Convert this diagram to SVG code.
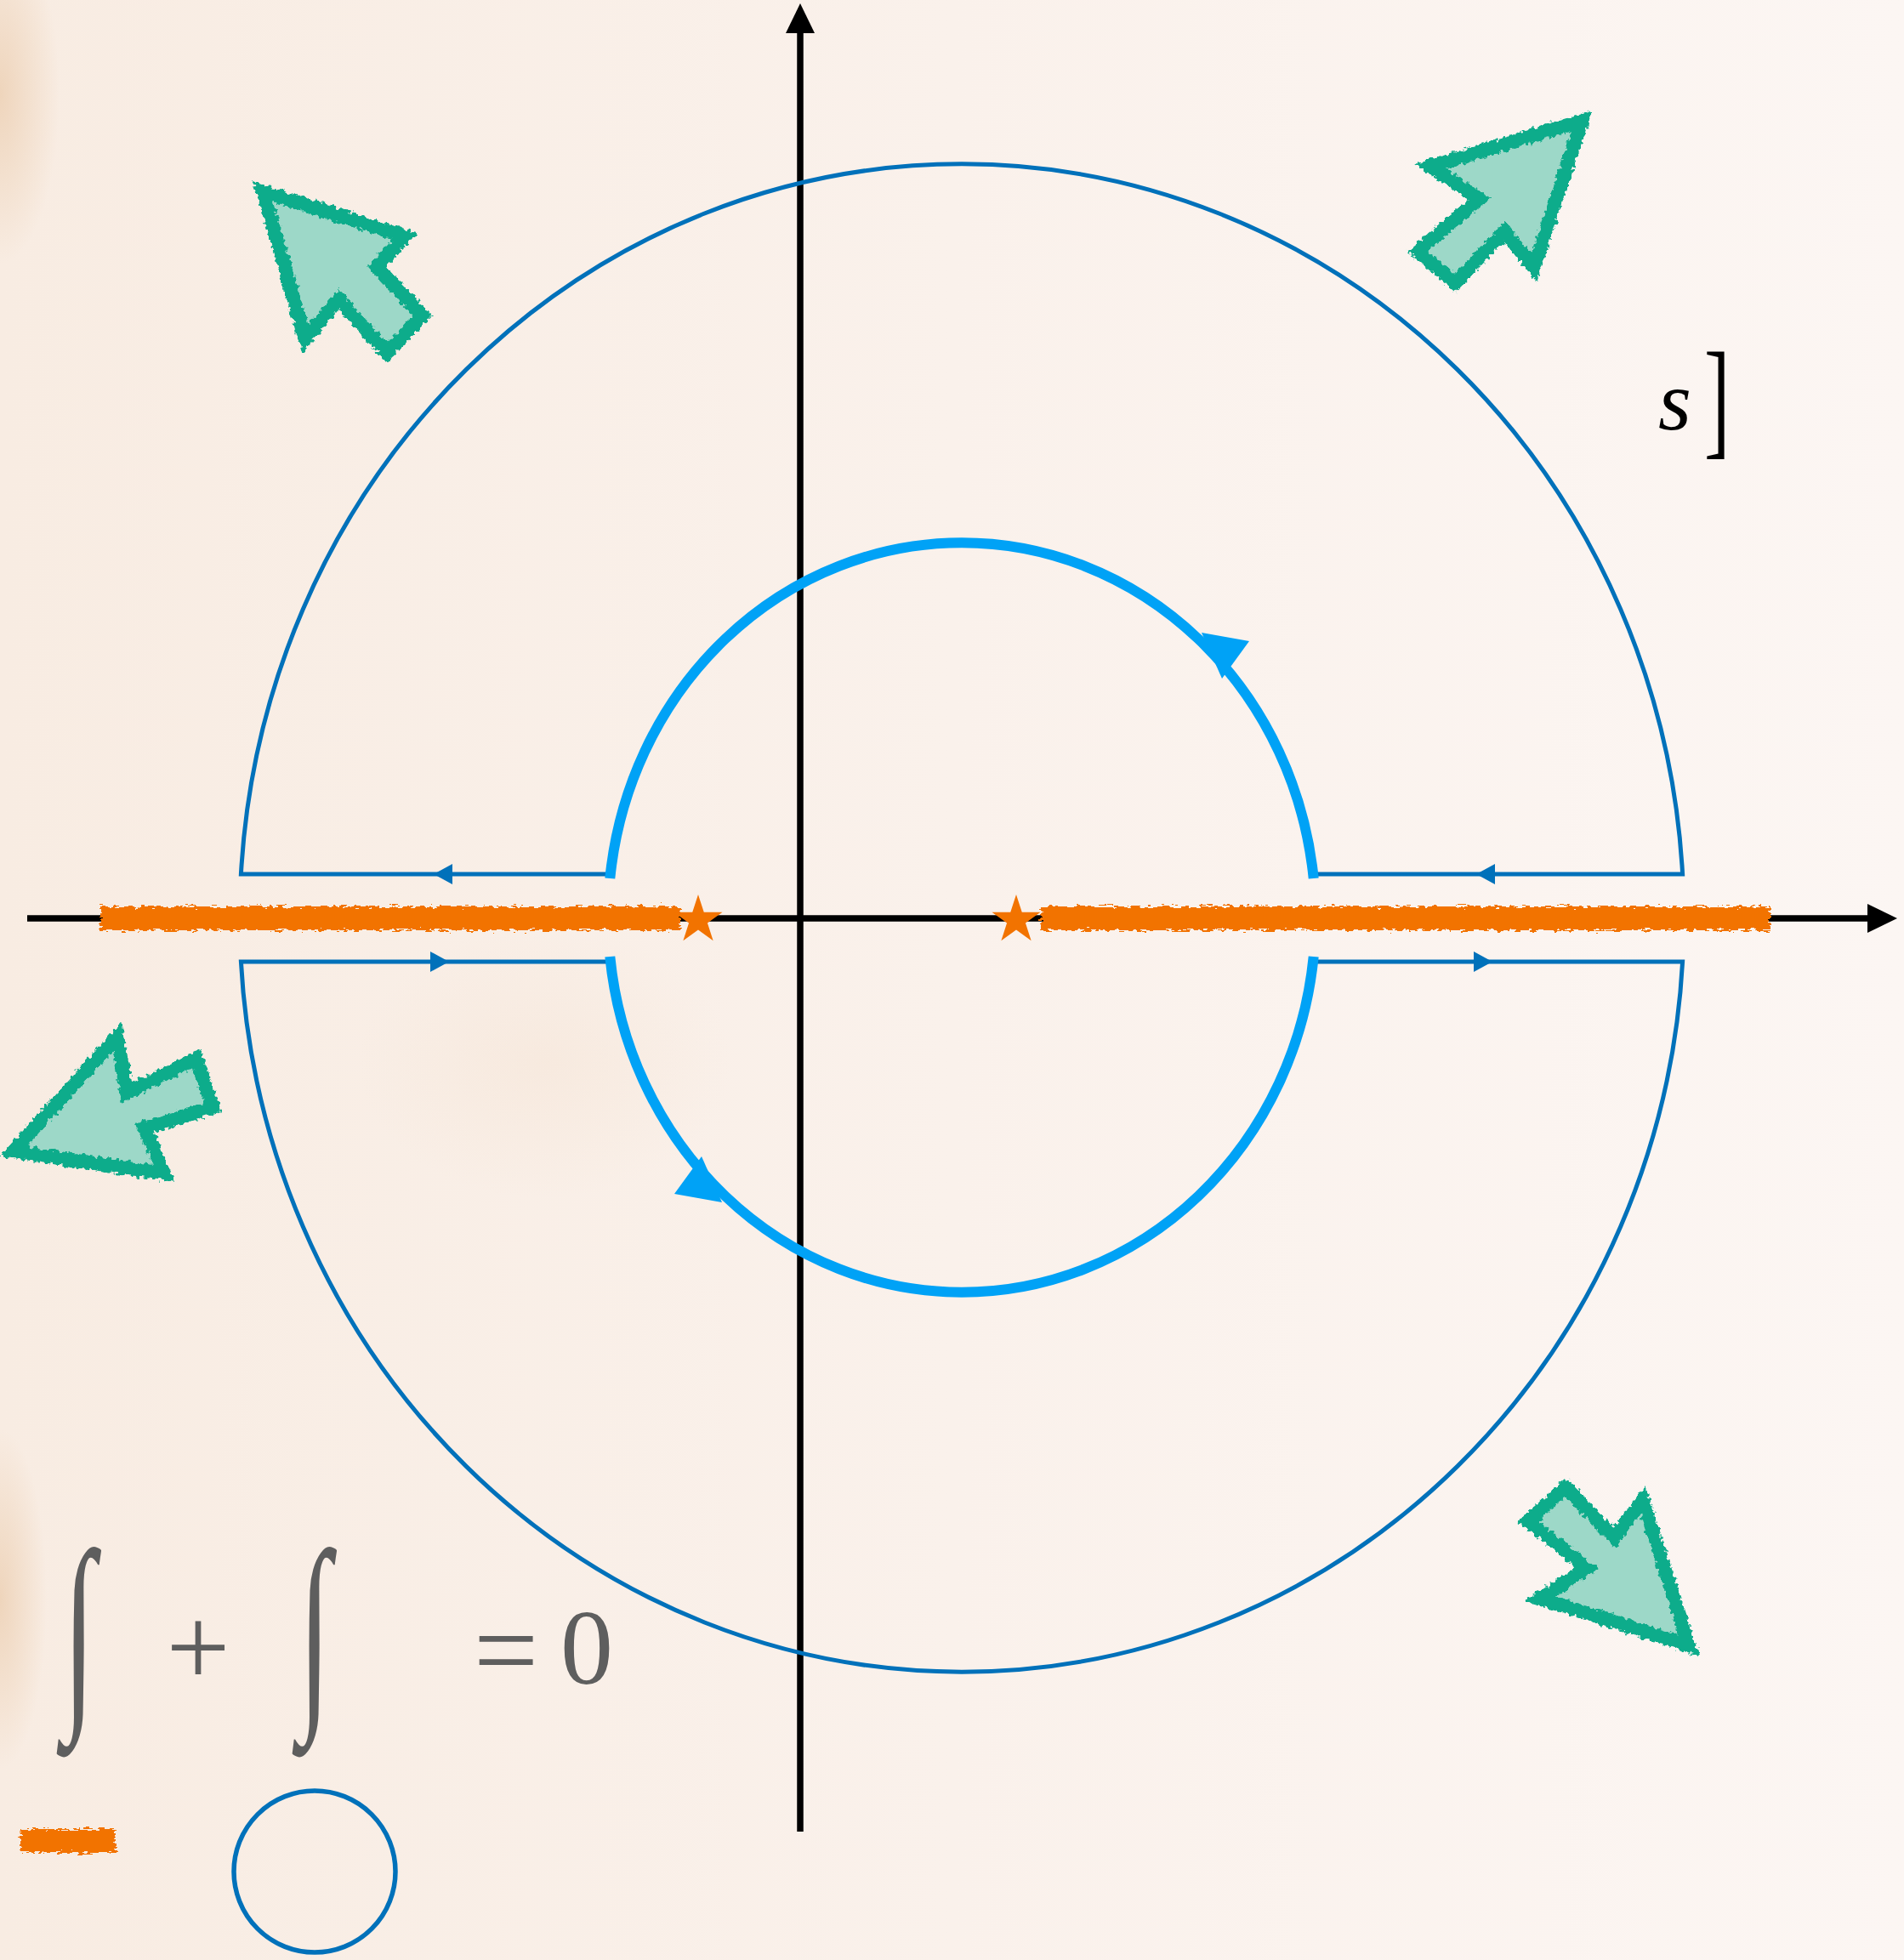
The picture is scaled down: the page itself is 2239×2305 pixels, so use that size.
<svg xmlns="http://www.w3.org/2000/svg" xmlns:xlink="http://www.w3.org/1999/xlink" width="2239" height="2305" viewBox="0 0 2239 2305">
<style>
.axis{stroke:#000;stroke-width:7.5;fill:none}
.thin{stroke:#0071ba;stroke-width:5;fill:none}
.thick{stroke:#00a2f6;stroke-width:12;fill:none}
.tipthin{fill:#0071ba}
.tipthick{fill:#00a2f6}
.cut{fill:#f27300}
.green{fill:#9dd8c8;stroke:#0fac8b;stroke-width:16;stroke-linejoin:miter}
.eq{font-family:'Liberation Serif','Times New Roman',serif;fill:#5e5e5e}
.lbl{font-family:'Liberation Serif','Times New Roman',serif;fill:#000}
</style>
<defs>
<linearGradient id="bg" x1="0" y1="0" x2="1" y2="0">
<stop offset="0" stop-color="#f8ece2"/>
<stop offset="0.5" stop-color="#faf1eb"/>
<stop offset="1" stop-color="#fcf6f3"/>
</linearGradient>
<radialGradient id="tan" cx="0.5" cy="0.5" r="0.5">
<stop offset="0" stop-color="#eccfb2" stop-opacity="0.8"/>
<stop offset="1" stop-color="#eccfb2" stop-opacity="0"/>
</radialGradient>
<filter id="rough" x="-5%" y="-80%" width="110%" height="260%">
<feTurbulence type="fractalNoise" baseFrequency="0.12 0.35" numOctaves="2" seed="4" result="n"/>
<feDisplacementMap in="SourceGraphic" in2="n" scale="12" xChannelSelector="R" yChannelSelector="G"/>
</filter>
<filter id="sketch" x="-10%" y="-10%" width="120%" height="120%">
<feTurbulence type="fractalNoise" baseFrequency="0.2" numOctaves="2" seed="7" result="n"/>
<feDisplacementMap in="SourceGraphic" in2="n" scale="9" xChannelSelector="R" yChannelSelector="G"/>
</filter>
<polygon id="star" points="0,-30 6.76,-9.3 28.53,-9.27 10.94,3.55 17.63,24.27 0,11.5 -17.63,24.27 -10.94,3.55 -28.53,-9.27 -6.76,-9.3" fill="#f27300"/>
</defs>

<g id="background">
<rect x="0" y="0" width="2239" height="2305" fill="url(#bg)"/>
<ellipse cx="0" cy="110" rx="70" ry="200" fill="url(#tan)"/>
<ellipse cx="0" cy="1880" rx="55" ry="200" fill="url(#tan)"/>
<ellipse cx="640" cy="1250" rx="220" ry="160" fill="url(#tan)" opacity="0.2"/>
</g>

<g id="axes">
<line class="axis" x1="32" y1="1080" x2="2200" y2="1080"/>
<polygon points="2231,1080 2196,1063 2196,1097" fill="#000"/>
<line class="axis" x1="941" y1="2154" x2="941" y2="36"/>
<polygon points="941,4 924,39 958,39" fill="#000"/>
</g>

<g id="branch-cuts">
<rect class="cut" x="118" y="1066" width="682" height="28" filter="url(#rough)"/>
<rect class="cut" x="1224" y="1066" width="858" height="28" filter="url(#rough)"/>
<use xlink:href="#star" x="821" y="1082"/>
<use xlink:href="#star" x="1195" y="1082"/>
</g>

<g id="connectors">
<path class="thin" d="M 717.8 1028 L 283.4 1028 A 849 886 0 0 1 1978.6 1028 L 1544.2 1028"/>
<path class="thin" d="M 717.8 1131 L 283.4 1131 A 849 886 0 0 0 1978.6 1131 L 1544.2 1131"/>
<polygon class="tipthin" points="510,1028 532,1016 532,1040"/>
<polygon class="tipthin" points="1736,1028 1758,1016 1758,1040"/>
<polygon class="tipthin" points="528,1131 506,1119 506,1143"/>
<polygon class="tipthin" points="1755,1131 1733,1119 1733,1143"/>
<path class="thick" d="M 1544.7 1033 A 416 441 0 0 0 717.3 1033"/>
<path class="thick" d="M 717.3 1125 A 416 441 0 0 0 1544.7 1125"/>
<polygon class="tipthick" points="1413,744 1469,754 1437,798"/>
<polygon class="tipthick" points="849,1414 793,1404 825,1360"/>
</g>

<g id="arrows">
<polygon id="arrow-nw" class="green" filter="url(#sketch)" points="309,225 476,278 443,314 497,371 455,415 398,352 359,399"/>
<polygon id="arrow-ne" class="green" filter="url(#sketch)" points="1860,142 1682,196 1740,234 1667,295 1711,333 1769,272 1804,315"/>
<polygon id="arrow-sw" class="green" filter="url(#sketch)" points="15,1354 138,1219 149,1285 231,1245 250,1302 170,1327 193,1380"/>
<polygon id="arrow-se" class="green" filter="url(#sketch)" points="1986,1935 1932,1764 1898,1808 1841,1749 1797,1789 1866,1844 1811,1880"/>
</g>

<g id="label-s">
<text class="lbl" x="1950" y="505" font-size="100" font-style="italic">s</text>
<text class="lbl" transform="translate(2004,520) scale(0.6,1)" x="0" y="0" font-size="152">]</text>
</g>

<g id="equation">
<text class="eq" transform="translate(93,1999) scale(0.55,1)" x="0" y="0" font-size="252" text-anchor="middle">∫</text>
<text class="eq" x="233" y="1982" font-size="133" text-anchor="middle">+</text>
<text class="eq" transform="translate(370,1999) scale(0.55,1)" x="0" y="0" font-size="252" text-anchor="middle">∫</text>
<text class="eq" x="595" y="1986" font-size="135" text-anchor="middle">=</text>
<text class="eq" x="690" y="1980" font-size="124" text-anchor="middle">0</text>
</g>

<g id="legend">
<rect class="cut" x="24" y="2151" width="112" height="28" filter="url(#rough)"/>
<circle cx="370" cy="2201" r="95" fill="none" stroke="#0071ba" stroke-width="5.5"/>
</g>
</svg>
